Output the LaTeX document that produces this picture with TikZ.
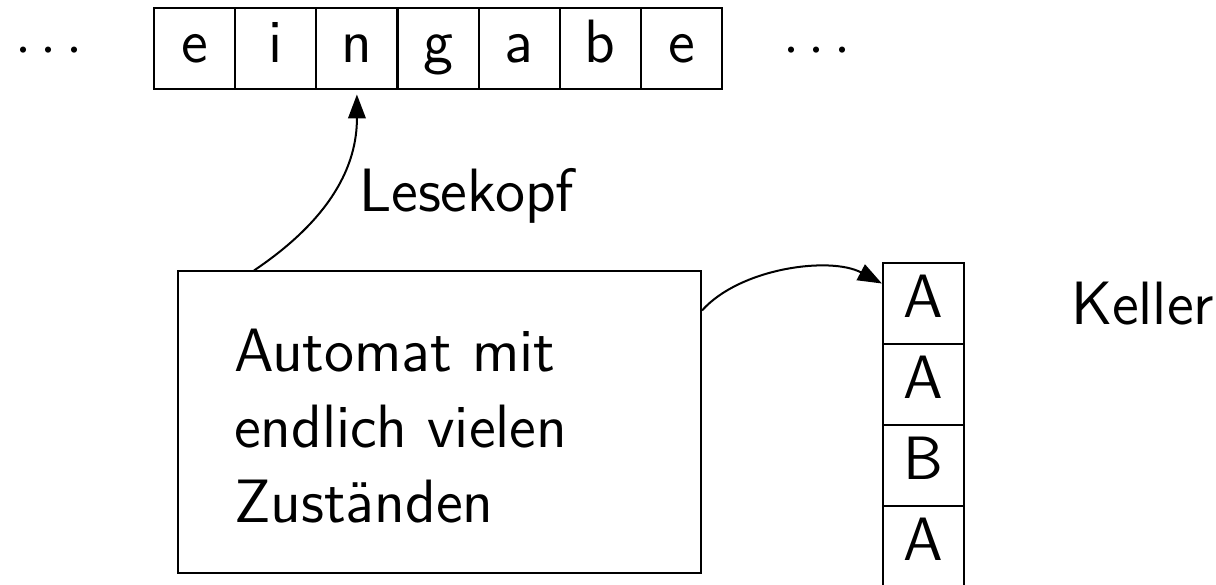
\documentclass[tikz,border=0pt]{standalone}
\usepackage{fontspec}
\renewcommand\familydefault{\sfdefault}
\usetikzlibrary{arrows.meta}
\begin{document}
\begin{tikzpicture}[x=0.25pt,y=-0.25pt, line width=0.5pt,
  font=\fontsize{15.3}{18.9}\selectfont,
  cell/.style={draw, minimum width=20.3pt, minimum height=20.25pt, inner sep=0pt,
    text height=10.5pt, text depth=3.7pt},
  lbl/.style={anchor=base west, inner sep=0pt},
  arr/.style={-{Triangle[length=6pt,width=4.4pt]}}]
\useasboundingbox (0,0) rectangle (1216,585);
% tape
\node[cell] (t1) at (194.6,49) {e};
\node[cell] (t2) at (275.7,49) {i};
\node[cell] (t3) at (356.9,49) {n};
\node[cell] (t4) at (438.0,49) {g};
\node[cell] (t5) at (519.1,49) {a};
\node[cell] (t6) at (600.3,49) {b};
\node[cell] (t7) at (681.4,49) {e};
\node[anchor=base, inner sep=0pt] (dl) at (49,65) {$\cdots$};
\node[anchor=base, inner sep=0pt] (dr) at (817,65) {$\cdots$};
% automaton
\node[draw, minimum width=130.75pt, minimum height=75.5pt, inner sep=0pt] (automat) at (439.5,422.5) {};
\node[lbl] (a1) at (233,372) {Automat mit};
\node[lbl] (a2) at (233,447.5) {endlich vielen};
\node[lbl] (a3) at (233,523) {Zuständen};
% stack
\node[cell] (s1) at (923.5,303.5) {A};
\node[cell] (s2) at (923.5,384.5) {A};
\node[cell] (s3) at (923.5,465.5) {B};
\node[cell] (s4) at (923.5,546.5) {A};
\node[lbl] (keller) at (1070,325) {Keller};
\node[lbl] (lese) at (358,212) {Lesekopf};
% connectors
\draw[arr] ([xshift=19.25pt]automat.north west) .. controls (332,218) and (357,165) .. ([yshift=-1pt]t3.south);
\draw[arr] ([yshift=-10pt]automat.north east) .. controls (740,268) and (830,256) .. ([yshift=5pt]s1.west);
\end{tikzpicture}
\end{document}
